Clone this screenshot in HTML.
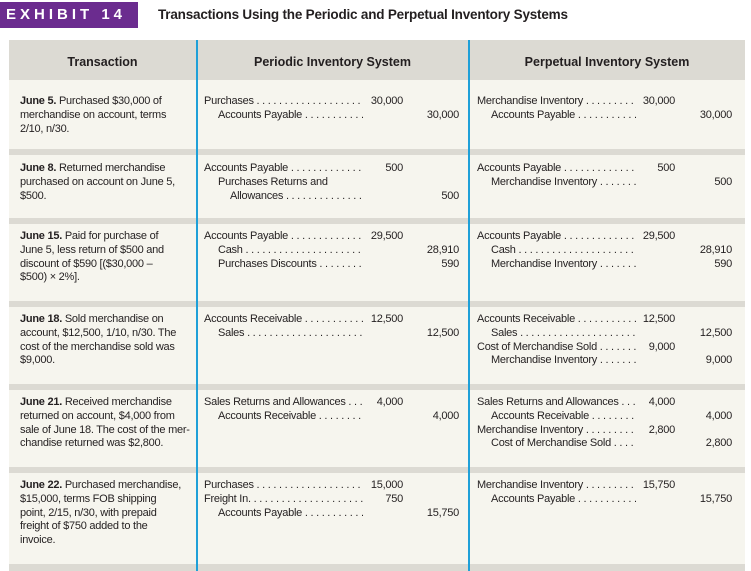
<!DOCTYPE html><html><head><meta charset="utf-8"><style>
body{margin:0;width:751px;height:571px;background:#fff;position:relative;overflow:hidden;font-family:"Liberation Sans",sans-serif;color:#231f20}
.abs{position:absolute}
.tbl{left:9px;top:40px;width:736px;height:531px;background:#f6f5ee}
.hd{left:9px;top:40px;width:736px;height:40px;background:#dcdad3}
.sep{left:9px;width:736px;height:6px;background:#dcdad3}
.v{top:40px;width:1.5px;height:531px;background:#1fa0d8}
.h{top:55px;font-weight:bold;font-size:12.5px;text-align:center}
.t{left:20px;width:172px;font-size:11px;line-height:13.8px;letter-spacing:-0.25px;white-space:nowrap}
.l{position:absolute;white-space:nowrap;overflow:hidden;font-size:11px;letter-spacing:-0.25px;line-height:13.8px}
.a{position:absolute;font-size:11px;letter-spacing:-0.25px;text-align:right;line-height:13.8px}
</style></head><body>
<div class="abs" style="left:0;top:2px;width:138px;height:26px;background:#6b2c8f"></div>
<div class="abs" style="left:6px;top:6px;color:#fff;font-weight:bold;font-size:15px;letter-spacing:4px">EXHIBIT 14</div>
<div class="abs" style="left:158px;top:7px;font-weight:bold;font-size:13.5px;letter-spacing:-0.2px">Transactions Using the Periodic and Perpetual Inventory Systems</div>
<div class="abs tbl"></div><div class="abs hd"></div>
<div class="abs sep" style="top:149px"></div>
<div class="abs sep" style="top:218px"></div>
<div class="abs sep" style="top:301px"></div>
<div class="abs sep" style="top:384px"></div>
<div class="abs sep" style="top:467px"></div>
<div class="abs sep" style="top:564px;height:7px"></div>
<div class="abs v" style="left:196px"></div><div class="abs v" style="left:468px"></div>
<div class="abs h" style="left:9px;width:187px">Transaction</div>
<div class="abs h" style="left:197px;width:271px">Periodic Inventory System</div>
<div class="abs h" style="left:469px;width:276px">Perpetual Inventory System</div>

<div class="abs t" style="top:95px"><b>June 5.</b> Purchased $30,000 of<br>merchandise on account, terms<br>2/10, n/30.</div>
<div class="abs t" style="top:162px"><b>June 8.</b> Returned merchandise<br>purchased on account on June 5,<br>$500.</div>
<div class="abs t" style="top:230px"><b>June 15.</b> Paid for purchase of<br>June 5, less return of $500 and<br>discount of $590 [($30,000 –<br>$500) × 2%].</div>
<div class="abs t" style="top:313px"><b>June 18.</b> Sold merchandise on<br>account, $12,500, 1/10, n/30. The<br>cost of the merchandise sold was<br>$9,000.</div>
<div class="abs t" style="top:396px"><b>June 21.</b> Received merchandise<br>returned on account, $4,000 from<br>sale of June 18. The cost of the mer-<br>chandise returned was $2,800.</div>
<div class="abs t" style="top:479px"><b>June 22.</b> Purchased merchandise,<br>$15,000, terms FOB shipping<br>point, 2/15, n/30, with prepaid<br>freight of $750 added to the<br>invoice.</div>

<div id="e"></div>
<script>
var D=" . . . . . . . . . . . . . . . . . . . . . . . . . . . . . . . . . . . . . . . . . . . .";
var rows=[
[95,[["Purchases",0,"30,000",""],["Accounts Payable",1,"","30,000"]],[["Merchandise Inventory",0,"30,000",""],["Accounts Payable",1,"","30,000"]]],
[162,[["Accounts Payable",0,"500",""],["Purchases Returns and",1,"","",1],["Allowances",2,"","500"]],[["Accounts Payable",0,"500",""],["Merchandise Inventory ",1,"","500"]]],
[230,[["Accounts Payable",0,"29,500",""],["Cash",1,"","28,910"],["Purchases Discounts",1,"","590"]],[["Accounts Payable",0,"29,500",""],["Cash",1,"","28,910"],["Merchandise Inventory ",1,"","590"]]],
[313,[["Accounts Receivable",0,"12,500",""],["Sales ",1,"","12,500"]],[["Accounts Receivable",0,"12,500",""],["Sales ",1,"","12,500"],["Cost of Merchandise Sold",0,"9,000",""],["Merchandise Inventory ",1,"","9,000"]]],
[396,[["Sales Returns and Allowances",0,"4,000",""],["Accounts Receivable ",1,"","4,000"]],[["Sales Returns and Allowances",0,"4,000",""],["Accounts Receivable",1,"","4,000"],["Merchandise Inventory ",0,"2,800",""],["Cost of Merchandise Sold ",1,"","2,800"]]],
[479,[["Purchases",0,"15,000",""],["Freight In.",0,"750",""],["Accounts Payable",1,"","15,750"]],[["Merchandise Inventory ",0,"15,750",""],["Accounts Payable",1,"","15,750"]]]];
var h="";
function col(top,items,left,dotEnd,dr,cr){items.forEach(function(it,i){var y=top+i*13.8;var x=left+it[1]*14+(it[1]==2?-2:0);
h+='<div class="l" style="left:'+x+'px;top:'+y+'px;width:'+(dotEnd-x)+'px">'+it[0]+(it[4]?'':D)+'</div>';
if(it[2])h+='<div class="a" style="left:'+(dr-60)+'px;width:60px;top:'+y+'px">'+it[2]+'</div>';
if(it[3])h+='<div class="a" style="left:'+(cr-60)+'px;width:60px;top:'+y+'px">'+it[3]+'</div>';});}
rows.forEach(function(r){col(r[0],r[1],204,363,403,459);col(r[0],r[2],477,636,675,732);});
document.getElementById("e").innerHTML=h;
</script>
</body></html>
